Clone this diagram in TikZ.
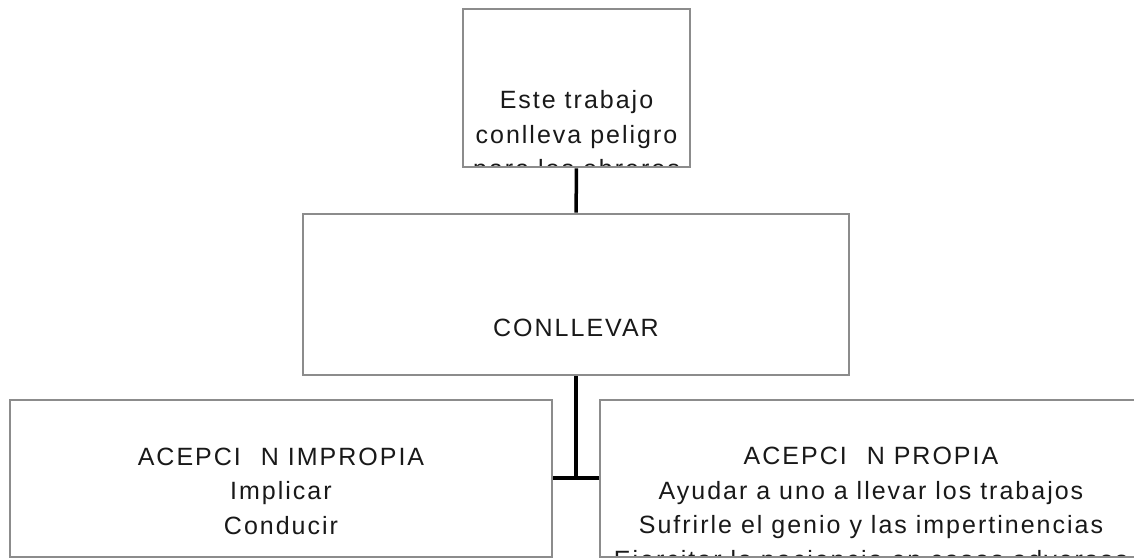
\documentclass[tikz,border=0pt]{standalone}
\usepackage{fontspec}
\newfontfamily\letra{Liberation Sans}[LetterSpace=8]
\usepackage{tikz}
\usetikzlibrary{shapes,arrows}
\tikzstyle{block} = [rectangle, draw=black!45, line width=2.7bp, fill=white, inner sep=0pt]
\tikzstyle{texto} = [align=center, anchor=base, inner sep=0pt, text=black!90, font=\letra\fontsize{25bp}{34.5bp}\selectfont]
\tikzstyle{line} = [draw, line width=3.5bp, black]

\begin{document}
\begin{tikzpicture}[x=1bp, y=-1bp]
\useasboundingbox (0,0) rectangle (1134,560);
\clip (0,0) rectangle (1134,560);
% text is clipped by the box, base = baseline of the last line
\node [block, minimum width=227bp, minimum height=158bp, path picture={
  \node [texto] (ejemplo-txt) at ([yshift=-169bp]path picture bounding box.north) {Este trabajo\\conlleva peligro\\para los obreros};
}] (ejemplo) at (576.5,88) {};
\node [block, minimum width=546bp, minimum height=161bp, path picture={
  \node [texto] (verbo-txt) at ([yshift=-123bp]path picture bounding box.north) {CONLLEVAR};
}] (verbo) at (576,294.5) {};
\node [block, minimum width=542bp, minimum height=157bp, path picture={
  \node [texto] (impropia-txt) at ([yshift=-134bp]path picture bounding box.north) {ACEPCI\hspace*{0.8em}N IMPROPIA\\Implicar\\Conducir};
}] (impropia) at (281,478.5) {};
\node [block, minimum width=542bp, minimum height=157bp, path picture={
  \node [texto] (propia-txt) at ([yshift=-168bp]path picture bounding box.north) {ACEPCI\hspace*{0.8em}N PROPIA\\Ayudar a uno a llevar los trabajos\\Sufrirle el genio y las impertinencias\\Ejercitar la paciencia en casos adversos};
}] (propia) at (871,478.5) {};
\coordinate (union) at (576,478);
\path [line] (ejemplo) -- (verbo);
\path [line] (verbo) -- (union);
\path [line] (impropia.east |- union) -- (propia.west |- union);
\end{tikzpicture}
\end{document}
